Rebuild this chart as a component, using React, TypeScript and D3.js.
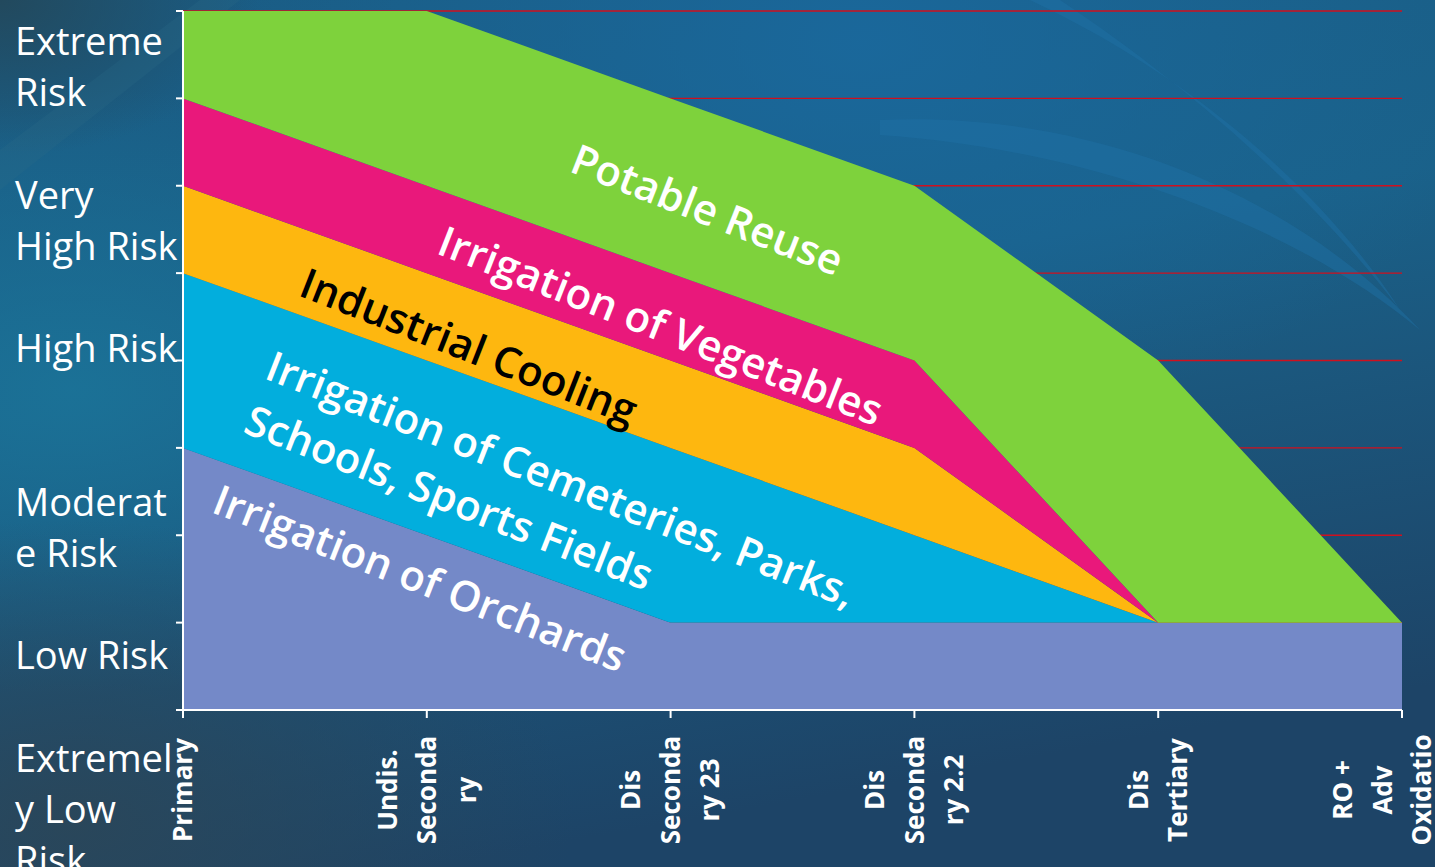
import React from "react";
import * as d3 from "d3";

// ---------- data ----------
const categories = [
  "Primary",
  "Undis. Secondary",
  "Dis Secondary 23",
  "Dis Secondary 2.2",
  "Dis Tertiary",
  "RO + Adv Oxidation",
];
const categoryLabelLines = [
  ["Primary"],
  ["Undis.", "Seconda", "ry"],
  ["Dis", "Seconda", "ry 23"],
  ["Dis", "Seconda", "ry 2.2"],
  ["Dis", "Tertiary"],
  ["RO +", "Adv", "Oxidatio", "n"],
];
const seriesNames = [
  "Irrigation of Orchards",
  "Irrigation of Cemeteries, Parks, Schools, Sports Fields",
  "Industrial Cooling",
  "Irrigation of Vegetables",
  "Potable Reuse",
];
const orchards = [3, 2, 1, 1, 1, 1];
const parks = [2, 2, 2, 1, 0, 0];
const industrial = [1, 1, 1, 1, 0, 0];
const vegetables = [1, 1, 1, 1, 0, 0];
const potable = [1, 2, 2, 2, 3, 0];
const riskTicks = [0, 1, 2, 3, 4, 5, 6, 7, 8];
const riskLabelLines = [
  "Extreme", "Risk", "", "Very", "High Risk", "", "High Risk", "", "",
  "Moderat", "e Risk", "", "Low Risk", "", "Extremel", "y Low", "Risk",
];
const annotationLines = [
  ["Irrigation of Orchards"],
  ["Irrigation of Cemeteries, Parks,", "Schools, Sports Fields"],
  ["Industrial Cooling"],
  ["Irrigation of Vegetables"],
  ["Potable Reuse"],
];
// anchor of each annotation in data space (category index, risk value)
const annotationIndex = [0.111, 0.328, 0.468, 1.034, 1.579];
const annotationValue = [2.27, 3.8, 4.75, 5.23, 6.17];

// ---------- styles ----------
const W = 1435;
const H = 867;
const colors = ["#7489C8", "#02AEDD", "#FEB70F", "#E9187B", "#7ED23C"];
const annColors = ["#fff", "#fff", "#000", "#fff", "#fff"];
const FONT = "'Open Sans', sans-serif";

export default function App() {
  const x = d3.scalePoint<string>().domain(categories).range([183, 1402]).padding(0);
  const xi = d3.scaleLinear().domain([0, categories.length - 1]).range([183, 1402]);
  const y = d3.scaleLinear().domain([0, 8]).range([710, 11]);

  const table = categories.map((c, i) => ({
    cat: c,
    s0: orchards[i],
    s1: parks[i],
    s2: industrial[i],
    s3: vegetables[i],
    s4: potable[i],
  }));
  const keys = ["s0", "s1", "s2", "s3", "s4"];
  const stacked = d3.stack<any>().keys(keys)(table);
  const area = d3
    .area<any>()
    .x((d) => x(d.data.cat) as number)
    .y0((d) => y(d[0]))
    .y1((d) => y(d[1]));

  const angle = 21.5;

  return (
    <svg
      width={W}
      height={H}
      style={{ position: "fixed", left: 0, top: 0, display: "block" }}
      fontFamily={FONT}
    >
      <defs>
        <linearGradient id="bg" x1="0" y1="0" x2="0.3" y2="1">
          <stop offset="0" stopColor="#1a5c84" />
          <stop offset="0.45" stopColor="#1a6189" />
          <stop offset="1" stopColor="#1d4467" />
        </linearGradient>
        <radialGradient id="glowL" cx="0.05" cy="0.45" r="0.35">
          <stop offset="0" stopColor="#1b7398" stopOpacity="0.9" />
          <stop offset="1" stopColor="#1b7398" stopOpacity="0" />
        </radialGradient>
        <radialGradient id="glowTR" cx="0.6" cy="0.05" r="0.45">
          <stop offset="0" stopColor="#1a6aa0" stopOpacity="0.8" />
          <stop offset="1" stopColor="#1a6aa0" stopOpacity="0" />
        </radialGradient>
        <radialGradient id="darkBL" cx="0.05" cy="0.95" r="0.35">
          <stop offset="0" stopColor="#2b4658" stopOpacity="0.9" />
          <stop offset="1" stopColor="#2b4658" stopOpacity="0" />
        </radialGradient>
        <radialGradient id="darkTL" cx="0" cy="0" r="0.18">
          <stop offset="0" stopColor="#234759" stopOpacity="0.9" />
          <stop offset="1" stopColor="#234759" stopOpacity="0" />
        </radialGradient>
      </defs>

      {/* background */}
      <rect width={W} height={H} fill="url(#bg)" />
      <rect width={W} height={H} fill="url(#glowTR)" />
      <rect width={W} height={H} fill="url(#glowL)" />
      <rect width={W} height={H} fill="url(#darkBL)" />
      <rect width={W} height={H} fill="url(#darkTL)" />
      <path
        d="M 880 120 C 1100 110, 1300 200, 1420 330 C 1300 230, 1100 150, 880 135 Z"
        fill="#1f72a6"
        opacity={0.45}
      />
      <path
        d="M 1030 0 C 1200 80, 1330 200, 1400 310 C 1310 190, 1180 80, 1060 0 Z"
        fill="#1f72a6"
        opacity={0.45}
      />
      <path d="M 0 150 L 200 0 L 240 0 L 0 190 Z" fill="#2a6a88" opacity={0.25} />

      {/* gridlines */}
      <g>
        {riskTicks.slice(1).map((t) => (
          <line key={t} x1={183} x2={1402} y1={y(t)} y2={y(t)} stroke="#d0101e" strokeWidth={1.3} />
        ))}
      </g>

      {/* areas */}
      <g>
        {stacked.map((s, i) => (
          <path key={s.key} d={area(s) as string} fill={colors[i]}>
            <title>{seriesNames[i]}</title>
          </path>
        ))}
      </g>

      {/* annotations */}
      <g fontWeight={600} fontSize={42}>
        {annotationLines.map((lines, i) => (
          <text
            key={i}
            transform={`translate(${xi(annotationIndex[i])},${y(annotationValue[i])}) rotate(${angle})`}
            fill={annColors[i]}
          >
            {lines.map((l, j) => (
              <tspan key={j} x={0} y={j * 58}>
                {l}
              </tspan>
            ))}
          </text>
        ))}
      </g>

      {/* axes */}
      <g stroke="#fff" strokeWidth={2} fill="none">
        <line x1={183} x2={183} y1={y(8)} y2={y(0)} />
        <line x1={183} x2={1402} y1={y(0)} y2={y(0)} />
        {riskTicks.map((t) => (
          <line key={t} x1={176} x2={183} y1={y(t)} y2={y(t)} />
        ))}
        {categories.map((c) => (
          <line key={c} x1={x(c)} x2={x(c)} y1={y(0)} y2={y(0) + 8} />
        ))}
      </g>

      {/* y labels */}
      <g fill="#fff" fontSize={38}>
        {riskLabelLines.map((l, i) => (
          <text key={i} x={15} y={55 + i * 51.2}>
            {l}
          </text>
        ))}
      </g>

      {/* x labels */}
      <g fill="#fff" fontSize={26} fontWeight={700}>
        {categories.map((c, ci) =>
          categoryLabelLines[ci].map((l, j) => {
            const n = categoryLabelLines[ci].length;
            const cx = (x(c) as number) + (j - (n - 1) / 2) * 39.5;
            return (
              <text
                key={c + j}
                transform={`translate(${cx},790) rotate(-90)`}
                textAnchor="middle"
                dy="0.36em"
              >
                {l}
              </text>
            );
          })
        )}
      </g>
    </svg>
  );
}
